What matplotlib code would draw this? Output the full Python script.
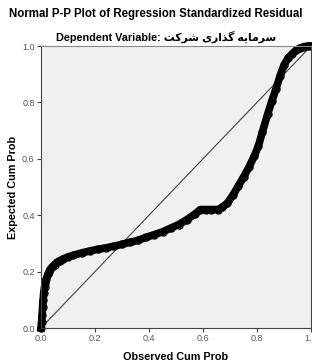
import matplotlib
matplotlib.use("Agg")
import matplotlib.pyplot as plt

# observed / expected cumulative probabilities
obs = [0.000, 0.002, 0.004, 0.006, 0.008, 0.010, 0.013, 0.016, 0.020, 0.025,
       0.030, 0.035, 0.040, 0.050, 0.060, 0.070, 0.080, 0.100, 0.120, 0.150,
       0.180, 0.210, 0.240, 0.270, 0.300, 0.330, 0.360, 0.390, 0.420, 0.450,
       0.480, 0.510, 0.540, 0.570, 0.590, 0.610, 0.630, 0.656, 0.670, 0.690,
       0.710, 0.730, 0.750, 0.770, 0.790, 0.805, 0.820, 0.840, 0.855, 0.870,
       0.885, 0.900, 0.915, 0.930, 0.945, 0.960, 0.975, 0.990, 1.000]
exp = [0.000, 0.020, 0.045, 0.075, 0.100, 0.125, 0.145, 0.160, 0.175, 0.190,
       0.200, 0.208, 0.215, 0.225, 0.233, 0.239, 0.244, 0.252, 0.258, 0.266,
       0.273, 0.279, 0.284, 0.290, 0.297, 0.304, 0.311, 0.322, 0.331, 0.341,
       0.354, 0.367, 0.384, 0.404, 0.420, 0.420, 0.420, 0.420, 0.428, 0.442,
       0.470, 0.502, 0.535, 0.570, 0.610, 0.645, 0.695, 0.760, 0.805, 0.847,
       0.893, 0.932, 0.957, 0.972, 0.985, 0.993, 0.998, 1.000, 1.000]

ticks = [0.0, 0.2, 0.4, 0.6, 0.8, 1.0]
tick_labels = ["0.0", "0.2", "0.4", "0.6", "0.8", "1.0"]

# persian name in visual (presentation form) order
dep_var = "\uFE96\uFB90\uFEAE\uFEB7 \uFBFC\uFEAD\uFE8D\uFEAC\uFB94 \uFEEA\uFBFE\uFE8E\uFEE3\uFEAE\uFEB3"

fonts = ["Liberation Sans", "DejaVu Sans"]
plt.rcParams["font.family"] = fonts

fig = plt.figure(figsize=(3.12, 3.64), dpi=100)
ax = fig.add_axes([41/312, 36/364, 270/312, 282/364])
ax.set_facecolor("#f0f0f0")

ax.plot([0, 1], [0, 1], color="#444444", lw=0.8)
ax.plot(obs, exp, color="black", lw=5.5, marker="o", ms=5,
        mfc="none", mec="black", mew=1, clip_on=False)

ax.set_xlim(0, 1)
ax.set_ylim(0, 1)
ax.set_xticks(ticks)
ax.set_xticklabels(tick_labels)
ax.set_yticks(ticks)
ax.set_yticklabels(tick_labels)
ax.tick_params(direction="out", length=3, width=0.8, colors="#444444",
               labelsize=6.5, labelcolor="#555555", pad=1.5)
for s in ax.spines.values():
    s.set_color("#444444")
    s.set_linewidth(0.8)
ax.spines["top"].set_color("#888888")

ax.set_xlabel("Observed Cum Prob", fontsize=7.8, fontweight="bold", labelpad=6)
ax.set_ylabel("Expected Cum Prob", fontsize=7.8, fontweight="bold", labelpad=3)

fig.text(0.5, 1 - 14/364, "Normal P-P Plot of Regression Standardized Residual",
         ha="center", va="center", fontsize=8.3, fontweight="bold")
fig.text(166/312, 1 - 37/364, "Dependent Variable: " + dep_var,
         ha="center", va="center", fontsize=7.8, fontweight="bold")

fig.savefig("out.png", dpi=100)
